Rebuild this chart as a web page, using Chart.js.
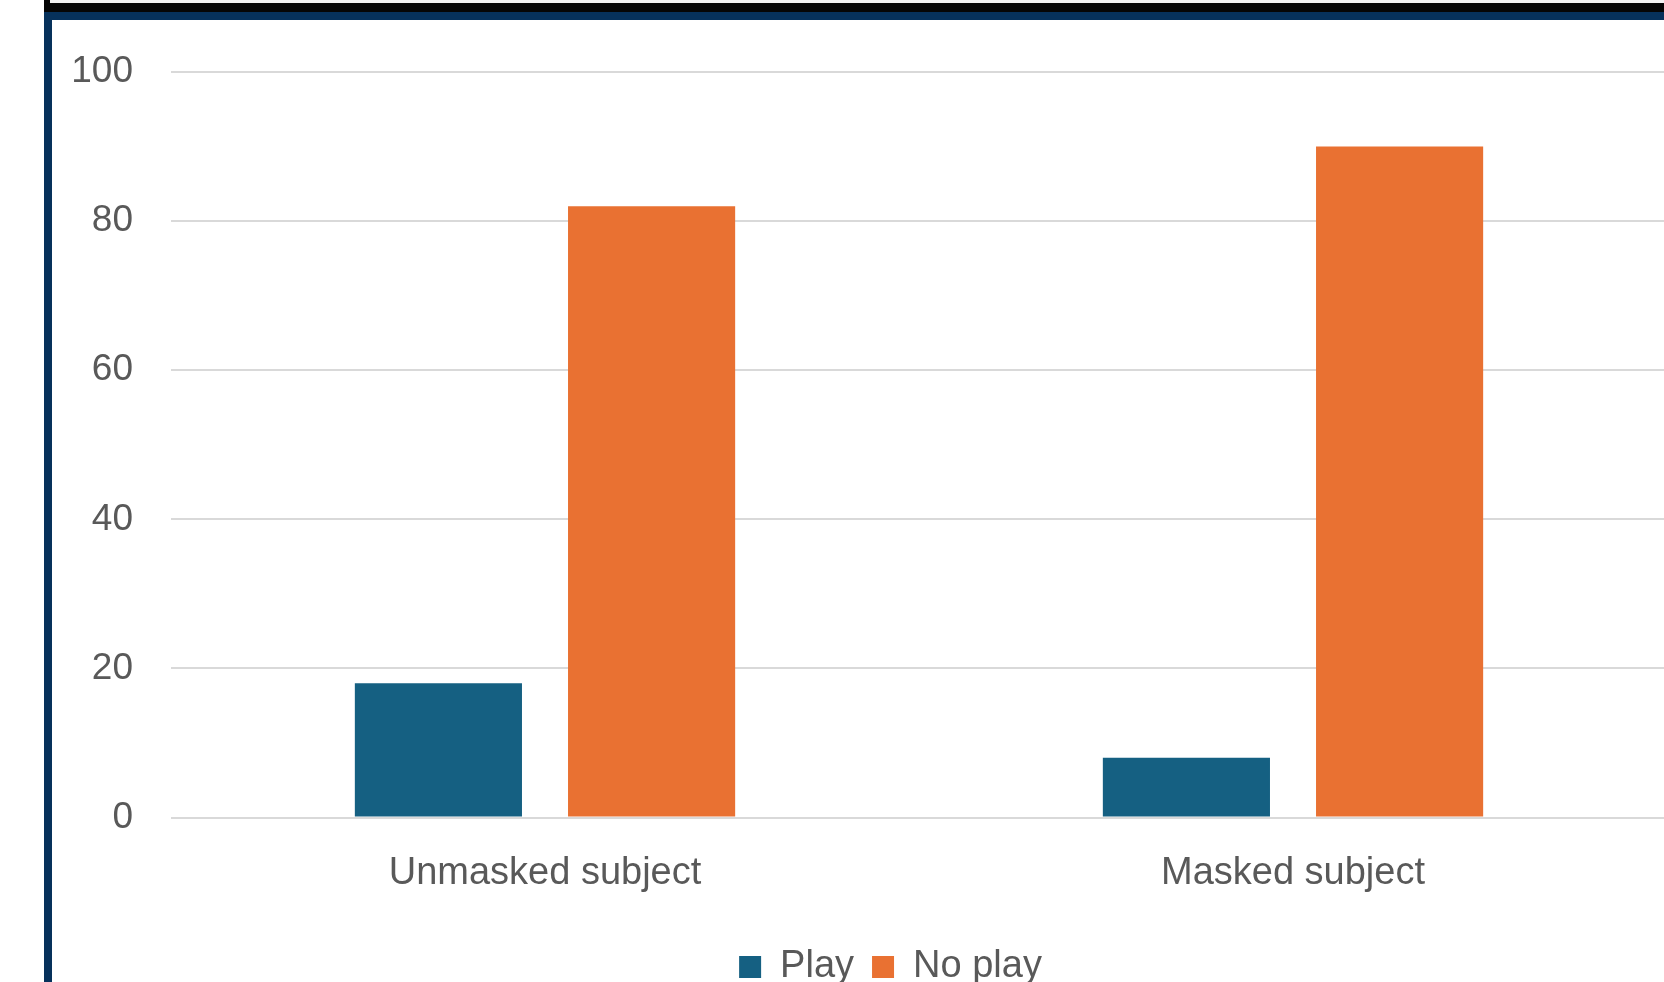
<!DOCTYPE html>
<html>
<head>
<meta charset="utf-8">
<script src="https://cdn.jsdelivr.net/npm/chart.js@4"></script>
<style>
  html, body { margin: 0; padding: 0; background: #fff; overflow: hidden; width: 1664px; height: 982px; }
  #salesChart { position: absolute; left: 0; top: 0; }
  .frame { position: absolute; z-index: 2; }
</style>
</head>
<body>
<!-- bingkai di atas dan kiri -->
<div class="frame" style="left:44px; top:0; width:1640px; height:12px; background:#050505;"></div>
<div class="frame" style="left:50px; top:0; width:1640px; height:3px; background:#f2f2f2;"></div>
<div class="frame" style="left:44px; top:12px; width:1640px; height:8px; background:#06315b;"></div>
<div class="frame" style="left:44px; top:12px; width:8px; height:980px; background:#06315b;"></div>

<canvas id="salesChart" width="1667" height="1000"></canvas>

<script>
const ctx = document.getElementById('salesChart').getContext('2d');

// Data
const categories = ['Unmasked subject', 'Masked subject'];
const playValues = [18, 8];
const noPlayValues = [82, 90];
const seriesNames = ['Play', 'No play'];
const yTicks = [0, 20, 40, 60, 80, 100];

const textColor = '#595959';
const fontFamily = '"Liberation Sans", Arial, sans-serif';

// legend digeser sedikit ke kanan (pusat chart asli di luar potongan)
const geserLegend = {
    id: 'geserLegend',
    afterLayout(chart) {
        chart.legend.left += 34;
        chart.legend.right += 34;
    }
};

const config = {
    type: 'bar',
    data: {
        labels: categories,
        datasets: [
            {
                label: seriesNames[0],
                data: playValues,
                backgroundColor: '#156082',
                borderWidth: 0,
                categoryPercentage: 0.57,
                barPercentage: 0.784
            },
            {
                label: seriesNames[1],
                data: noPlayValues,
                backgroundColor: '#e97132',
                borderWidth: 0,
                categoryPercentage: 0.57,
                barPercentage: 0.784
            }
        ]
    },
    options: {
        responsive: false,
        animation: false,
        devicePixelRatio: 1,
        layout: {
            padding: { left: 46, top: 72, right: 0, bottom: 4 }
        },
        plugins: {
            tooltip: { enabled: false },
            legend: {
                position: 'bottom',
                labels: {
                    boxWidth: 22,
                    boxHeight: 22,
                    padding: 18,
                    color: textColor,
                    font: { family: fontFamily, size: 38 }
                }
            }
        },
        scales: {
            x: {
                grid: { display: false, drawTicks: false },
                border: { display: false },
                ticks: {
                    padding: 33,
                    color: textColor,
                    font: { family: fontFamily, size: 38 }
                },
                afterFit: (scale) => { scale.height = 112.5; }
            },
            y: {
                min: 0,
                max: 100,
                grid: { color: '#d9d9d9', lineWidth: 2, drawTicks: false },
                border: { display: false },
                afterBuildTicks: (scale) => { scale.ticks = yTicks.map(v => ({ value: v })); },
                ticks: {
                    padding: 38,
                    color: textColor,
                    font: { family: fontFamily, size: 37 }
                },
                afterFit: (scale) => { scale.width = 125; }
            }
        }
    },
    plugins: [geserLegend]
};

new Chart(ctx, config);
</script>
</body>
</html>
